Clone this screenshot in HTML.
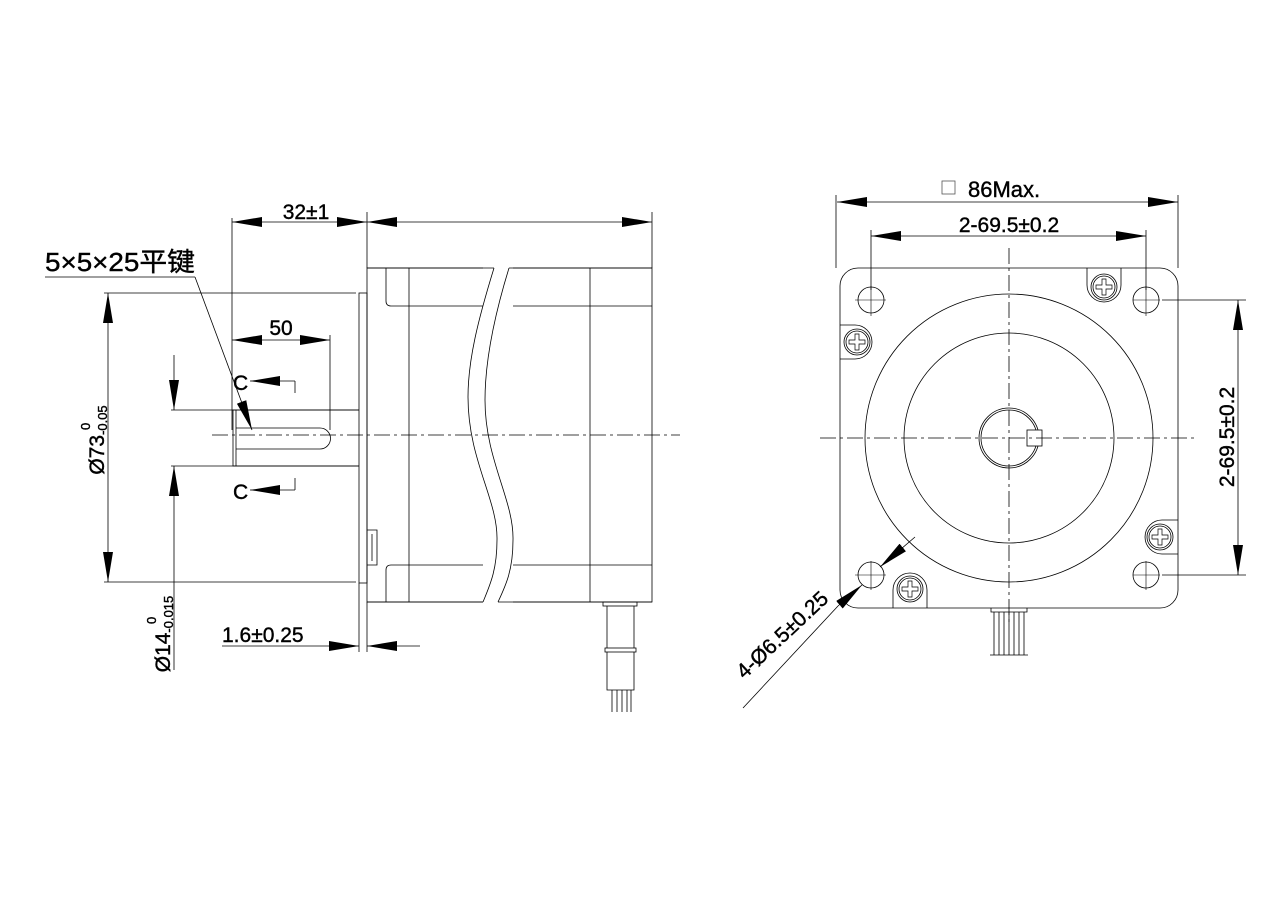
<!DOCTYPE html>
<html><head><meta charset="utf-8"><style>
html,body{margin:0;padding:0;background:#fff}
svg{display:block}
text{font-family:"Liberation Sans",Arial,sans-serif;fill:#000}
</style></head><body>
<svg width="1269" height="898" viewBox="0 0 1269 898" xmlns="http://www.w3.org/2000/svg">
<defs>
<marker id="a" viewBox="0 0 30 10" refX="30" refY="5" markerWidth="30" markerHeight="10" markerUnits="userSpaceOnUse" orient="auto-start-reverse"><path d="M0,0 L30,5 L0,10 z" fill="#000"/></marker>
</defs>
<g fill="none" stroke="#000" stroke-width="0.8">
<path d="M367,268 H652 V602 H367 Z"/>
<path d="M386,268 V301 Q386,306 391,306 H494"/>
<path d="M386,602 V570 Q386,565 391,565 H494"/>
<line x1="509" y1="306" x2="652" y2="306"/>
<line x1="509" y1="565" x2="652" y2="565"/>
<line x1="409" y1="268" x2="409" y2="602"/>
<line x1="590" y1="268" x2="590" y2="602"/>
<rect x="483" y="266" width="30" height="338" fill="#fff" stroke="none"/>
<path d="M494,268 C478,320 468,360 468,397 C468,460 498,500 497,540 C497,570 490,585 483,602"/>
<path d="M509,268 C493,320 485,365 485,400 C485,460 514,500 513,540 C513,570 506,585 498,602"/>
<line x1="367" y1="268" x2="494" y2="268"/><line x1="509" y1="268" x2="652" y2="268"/>
<line x1="367" y1="602" x2="483" y2="602"/><line x1="498" y1="602" x2="652" y2="602"/>
<rect x="359" y="293" width="8" height="290"/>
<path d="M367,530 H377 V565 H367"/>
<path d="M372,534 V561"/>
<path d="M359,410 H233 V466 H359"/>
<line x1="236" y1="410" x2="236" y2="466"/>
<path d="M236,428 H320 A10.5,10.5 0 0 1 320,449 H236"/>
<rect x="603" y="602" width="34" height="4"/>
<path d="M607,606 V648 M634,606 V648"/>
<rect x="605" y="648" width="31" height="4"/>
<path d="M607,652 V690 H634 V652"/>
<path d="M612,690 V712 M617,690 V712 M622,690 V712 M627,690 V712 M631,690 V712"/>
<line x1="212" y1="435" x2="680" y2="435" stroke-dasharray="16,4,3,4"/>
<line x1="232" y1="218" x2="232" y2="430"/>
<line x1="367" y1="212" x2="367" y2="268"/>
<line x1="652" y1="212" x2="652" y2="268"/>
<line x1="232" y1="222" x2="367" y2="222" marker-start="url(#a)" marker-end="url(#a)"/>
<line x1="367" y1="222" x2="652" y2="222" marker-start="url(#a)" marker-end="url(#a)"/>
<line x1="330" y1="335" x2="330" y2="430"/>
<line x1="232" y1="340" x2="330" y2="340" marker-start="url(#a)" marker-end="url(#a)"/>
<line x1="104" y1="293" x2="356" y2="293"/>
<line x1="104" y1="582" x2="356" y2="582"/>
<line x1="108" y1="293" x2="108" y2="582" marker-start="url(#a)" marker-end="url(#a)"/>
<line x1="171" y1="410" x2="359" y2="410"/>
<line x1="171" y1="466" x2="359" y2="466"/>
<line x1="174" y1="355" x2="174" y2="410" marker-end="url(#a)"/>
<line x1="174" y1="670" x2="174" y2="466" marker-end="url(#a)"/>
<line x1="45" y1="277" x2="195" y2="277"/>
<line x1="195" y1="277" x2="252" y2="430" marker-end="url(#a)"/>
<line x1="295" y1="381" x2="250" y2="381" marker-end="url(#a)"/>
<line x1="295" y1="381" x2="295" y2="393"/>
<line x1="295" y1="490" x2="250" y2="490" marker-end="url(#a)"/>
<line x1="295" y1="490" x2="295" y2="478"/>
<line x1="359" y1="583" x2="359" y2="652"/>
<line x1="367" y1="602" x2="367" y2="652"/>
<line x1="222" y1="646" x2="359" y2="646" marker-end="url(#a)"/>
<line x1="420" y1="646" x2="367" y2="646" marker-end="url(#a)"/>

<rect x="840" y="268" width="338" height="340" rx="18"/>
<circle cx="1009" cy="438" r="144"/>
<circle cx="1009" cy="438" r="105"/>
<circle cx="1009" cy="438" r="30"/>
<circle cx="1009" cy="438" r="28"/>
<rect x="1027" y="430" width="15" height="16" fill="#fff"/>
<circle cx="871" cy="300" r="13"/><circle cx="1146" cy="300" r="13"/>
<circle cx="871" cy="575" r="13"/><circle cx="1146" cy="575" r="13"/>
<g stroke-width="0.6">
<path d="M855,300 H886 M871,286 V316 M1133,300 H1160 M1146,286 V316 M855,575 H886 M871,561 V590 M1133,575 H1160 M1146,561 V590"/>
</g>
<path d="M840,325 H855 A17,17 0 0 1 855,359 H840"/>
<circle cx="857" cy="342" r="13"/><circle cx="857" cy="342" r="11"/>
<path d="M1087,268 V285 A17,17 0 0 0 1121,285 V268"/>
<circle cx="1104" cy="287" r="13"/><circle cx="1104" cy="287" r="11"/>
<path d="M1178,520 H1162 A17,17 0 0 0 1162,554 H1178"/>
<circle cx="1160" cy="537" r="13"/><circle cx="1160" cy="537" r="11"/>
<path d="M893,608 V590 A17,17 0 0 1 927,590 V608"/>
<circle cx="910" cy="589" r="13"/><circle cx="910" cy="589" r="11"/>
<g stroke-width="0.7">
<path d="M855,334h4v6h6v4h-6v6h-4v-6h-6v-4h6z"/>
<path d="M1102,279h4v6h6v4h-6v6h-4v-6h-6v-4h6z"/>
<path d="M1158,529h4v6h6v4h-6v6h-4v-6h-6v-4h6z"/>
<path d="M908,581h4v6h6v4h-6v6h-4v-6h-6v-4h6z"/>
</g>
<path d="M991,608 V612 H1027 V608"/>
<path d="M994,612 V655 M999,612 V655 M1004,612 V655 M1009,612 V655 M1014,612 V655 M1019,612 V655 M1024,612 V655 M990,655 H1028"/>
<line x1="820" y1="438" x2="1195" y2="438" stroke-dasharray="16,4,3,4"/>
<line x1="1009" y1="248" x2="1009" y2="622" stroke-dasharray="16,4,3,4"/>
<line x1="836" y1="195" x2="836" y2="268"/>
<line x1="1178" y1="195" x2="1178" y2="268"/>
<line x1="837" y1="202" x2="1178" y2="202" marker-start="url(#a)" marker-end="url(#a)"/>
<line x1="871" y1="230" x2="871" y2="290"/>
<line x1="1146" y1="230" x2="1146" y2="290"/>
<line x1="871" y1="236" x2="1146" y2="236" marker-start="url(#a)" marker-end="url(#a)"/>
<line x1="1162" y1="300" x2="1246" y2="300"/>
<line x1="1162" y1="575" x2="1246" y2="575"/>
<line x1="1238" y1="300" x2="1238" y2="575" marker-start="url(#a)" marker-end="url(#a)"/>
<line x1="743" y1="708" x2="838" y2="606"/>
<line x1="838" y1="606" x2="862" y2="585" marker-end="url(#a)"/>
<line x1="915" y1="537" x2="880" y2="567" marker-end="url(#a)"/>
<rect x="942" y="181" width="13" height="13" stroke="#555"/>
</g>
<g stroke="#000" stroke-width="0.4">
<text x="306" y="219" font-size="21" text-anchor="middle">32±1</text>
<text x="281" y="335" font-size="21" text-anchor="middle">50</text>
<text x="45" y="271" font-size="26" font-family="Liberation Sans,'Noto Sans CJK SC',sans-serif" textLength="150" lengthAdjust="spacingAndGlyphs">5×5×25平键</text>
<text x="233" y="390" font-size="21">C</text>
<text x="233" y="499" font-size="21">C</text>
<text x="222" y="642" font-size="21">1.6±0.25</text>
<text transform="translate(104,440) rotate(-90)" font-size="21" text-anchor="middle">Ø73<tspan font-size="13" dy="3">-0.05</tspan></text>
<text transform="translate(90,430) rotate(-90)" font-size="13">0</text>
<text transform="translate(170,634) rotate(-90)" font-size="21" text-anchor="middle">Ø14<tspan font-size="13" dy="3">-0.015</tspan></text>
<text transform="translate(156,624) rotate(-90)" font-size="13">0</text>
<text x="968" y="197" font-size="22">86Max.</text>
<text x="1009" y="232" font-size="21" text-anchor="middle">2-69.5±0.2</text>
<text transform="translate(1234,437) rotate(-90)" font-size="21" text-anchor="middle">2-69.5±0.2</text>
<text transform="translate(787,640) rotate(-43)" font-size="21" text-anchor="middle">4-Ø6.5±0.25</text>
</g>
</svg>
</body></html>
